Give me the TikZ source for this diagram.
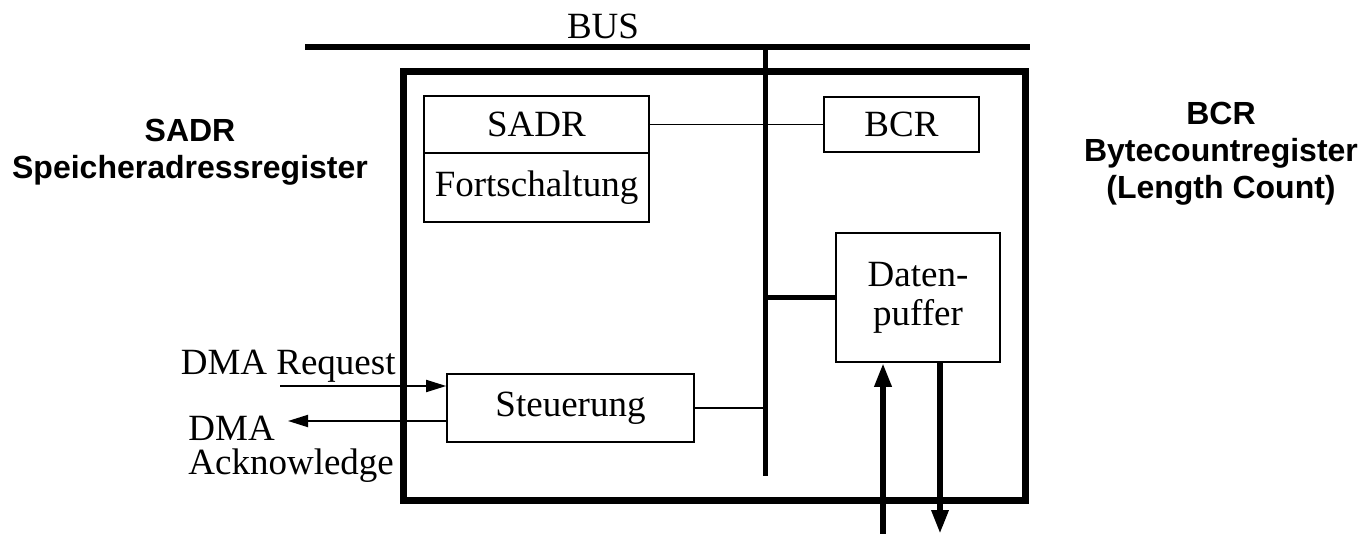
\documentclass[tikz,border=0pt]{standalone}
\usepackage{fontspec}
\setmainfont{Liberation Serif}
\newfontfamily\labelfont{Liberation Sans}
\usetikzlibrary{arrows.meta,positioning}
\tikzset{
  blk/.style={draw,thick,inner sep=0pt,align=center,font=\fontsize{18.5}{17}\selectfont},
  lbl/.style={inner sep=0pt,align=center,font=\labelfont\bfseries\fontsize{16}{18.5}\selectfont},
  txt/.style={inner sep=0pt,font=\fontsize{18.5}{17}\selectfont},
  busline/.style={line width=3pt},
  sig/.style={line width=0.9pt},
  tip/.style={-{Triangle[length=10pt,width=6pt]}},
  fat/.style={line width=3pt,-{Triangle[length=12pt,width=8pt]}},
}
\begin{document}
\begin{tikzpicture}[x=0.5pt,y=-0.5pt]
    \useasboundingbox (0,0) rectangle (1359,534);
    % bus and frame
    \node[txt] (bus) at (603,26) {BUS};
    \coordinate (busL) at (305,47);
    \coordinate (busR) at (1030,47);
    \coordinate (stubT) at (765,47);
    \coordinate (stubB) at (765,476);
    \draw[busline] (busL) -- (busR);
    \draw[line width=3.5pt] (403,72) rectangle (1025,500);
    \draw[line width=2.5pt] (stubT) -- (stubB);
    % registers
    \node[blk,minimum width=112.5pt,minimum height=28.5pt] (sadr) at (536.5,124.5) {SADR};
    \node[blk,minimum width=112.5pt,minimum height=34.5pt] (fort) at (536.5,187.5) {Fortschaltung};
    \node[blk,minimum width=77.5pt,minimum height=27.5pt] (bcr) at (901.5,124.5) {BCR};
    \node[blk,minimum width=82pt,minimum height=64.5pt,font=\fontsize{18.5}{19.5}\selectfont] (puffer) at (918,297.5) {Daten-\\puffer};
    \node[blk,minimum width=123.5pt,minimum height=34pt] (steuer) at (570.5,408) {Steuerung};
    \draw[sig] (sadr.east) -- (bcr.west);
    \draw[line width=2.5pt] (stubT |- puffer.west) -- (puffer.west);
    \draw[sig] (steuer.east) -- (stubT |- steuer.east);
    % DMA signals
    \node[txt,anchor=east] (req) at (396,366) {DMA Request};
    \node[txt,anchor=west,align=left] (ack) at (188,449) {DMA\\Acknowledge};
    \coordinate (reqA) at (280,386);
    \coordinate (ackA) at (288,421);
    \draw[sig,tip] (reqA) -- (reqA -| steuer.west);
    \draw[sig,tip] (ackA -| steuer.west) -- (ackA);
    % data lines
    \coordinate (inB) at (883,534);
    \coordinate (outB) at (940,534);
    \draw[fat] (inB) -- (inB |- puffer.south);
    \draw[fat] (outB |- puffer.south) -- (outB);
    % side labels
    \node[lbl] (sadrLbl) at (190,152) {SADR\\Speicheradressregister};
    \node[lbl] (bcrLbl) at (1221,154) {BCR\\Bytecountregister\\(Length Count)};
  \end{tikzpicture}
\end{document}
